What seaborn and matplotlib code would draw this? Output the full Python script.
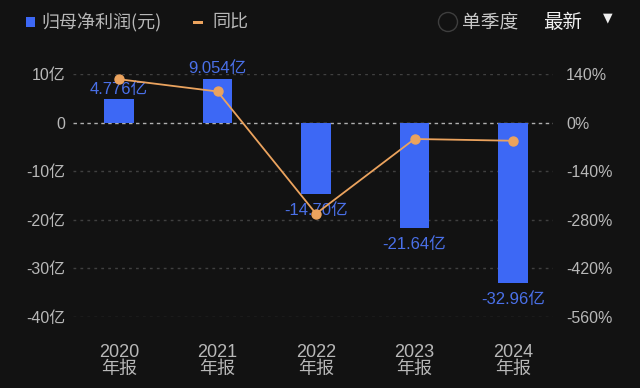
import matplotlib
matplotlib.use("Agg")
import matplotlib.pyplot as plt
import seaborn as sns
import pandas as pd
from matplotlib.patches import Rectangle, Ellipse

categories = ["2020\n年报", "2021\n年报", "2022\n年报", "2023\n年报", "2024\n年报"]
profit = [4.776, 9.054, -14.70, -21.64, -32.96]
profit_labels = ["4.776亿", "9.054亿", "-14.70亿", "-21.64亿", "-32.96亿"]
yoy = [125.0, 89.6, -262.4, -47.2, -52.3]
left_ticks = [10, 0, -10, -20, -30, -40]
left_ticklabels = ["10亿", "0", "-10亿", "-20亿", "-30亿", "-40亿"]
right_ticks = [140, 0, -140, -280, -420, -560]
right_ticklabels = ["140%", "0%", "-140%", "-280%", "-420%", "-560%"]

BG = "#121212"
BLUE = "#3D68F5"
LBLUE = "#4A70E8"
ORANGE = "#EBA35E"
GRAY = "#B8B8B8"
FONTS = ["Liberation Sans", "Noto Sans CJK SC", "DejaVu Sans"]
CJK = ["Noto Sans CJK SC", "DejaVu Sans"]

sns.set_theme(style="dark")
plt.rcParams["font.family"] = FONTS
plt.rcParams["axes.unicode_minus"] = False

fig = plt.figure(figsize=(6.4, 3.88), dpi=100, facecolor=BG)
ax = fig.add_axes([73 / 640, 1 - 317 / 388, (553 - 73) / 640, (317 - 74) / 388])
ax.set_facecolor(BG)

df = pd.DataFrame({"cat": categories, "profit": profit, "yoy": yoy})
sns.barplot(data=df, x="cat", y="profit", color=BLUE, width=0.3, saturation=1,
            linewidth=0, edgecolor=BLUE, ax=ax, zorder=3)

ax.set_ylim(-40, 10)
ax.set_xlim(-0.467, 4.406)
ax.set_yticks(left_ticks)
ax.set_yticklabels(left_ticklabels)
ax.set_xlabel("")
ax.set_ylabel("")
for s in ax.spines.values():
    s.set_visible(False)
ax.tick_params(axis="y", colors=GRAY, labelsize=11.5, length=0, pad=5.5)
ax.tick_params(axis="x", colors=GRAY, labelsize=13, length=0, pad=19.5)
for lbl in ax.get_xticklabels():
    lbl.set_linespacing(0.95)

for t in left_ticks:
    if t == 0:
        ax.axhline(t, color="#B0B0B0", lw=1.0, ls=(0, (2.5, 2.5)), zorder=2)
    else:
        ax.axhline(t, color="#404040", lw=1.0, ls=(0, (2, 3)), zorder=1)

for i, (v, lab) in enumerate(zip(profit, profit_labels)):
    if v >= 0:
        ax.annotate(lab, (i, v), xytext=(0, 2), textcoords="offset points",
                    ha="center", va="bottom", color=LBLUE, fontsize=12, zorder=5)
    else:
        ax.annotate(lab, (i, v), xytext=(0, -6.5), textcoords="offset points",
                    ha="center", va="top", color=LBLUE, fontsize=12, zorder=5)

ax2 = ax.twinx()
ax2.set_facecolor("none")
sns.pointplot(data=df, x="cat", y="yoy", ax=ax2, color=ORANGE, markers="o",
              linestyles="-", markersize=6.5, linewidth=1.3, zorder=6)
ax2.set_ylim(-560, 140)
ax2.set_xlim(-0.467, 4.406)
ax2.set_yticks(right_ticks)
ax2.set_yticklabels(right_ticklabels)
ax2.set_xlabel("")
ax2.set_ylabel("")
ax2.grid(False)
for s in ax2.spines.values():
    s.set_visible(False)
ax2.tick_params(axis="y", colors=GRAY, labelsize=11.5, length=0, pad=9.5)

# header legend
fig.add_artist(Rectangle((26 / 640, 1 - 27 / 388), 9 / 640, 10 / 388,
                         transform=fig.transFigure, color=BLUE, lw=0))
fig.text(41 / 640, 1 - 23 / 388, "归母净利润(元)", color=GRAY, fontsize=13,
         va="center", family=CJK)
fig.add_artist(Rectangle((193 / 640, 1 - 23.5 / 388), 10 / 640, 3 / 388,
                         transform=fig.transFigure, color=ORANGE, lw=0))
fig.text(212 / 640, 1 - 23 / 388, "同比", color=GRAY, fontsize=13, va="center",
         family=CJK)
fig.add_artist(Ellipse((448 / 640, 1 - 22 / 388), 19 / 640, 19 / 388,
                       transform=fig.transFigure, fill=False, ec="#3E3E3E", lw=1.0))
fig.text(462 / 640, 1 - 23 / 388, "单季度", color="#C8C8C8", fontsize=13.5,
         va="center", family=CJK)
fig.text(543 / 640, 1 - 23 / 388, "最新", color="#F0F0F0", fontsize=14,
         va="center", family=CJK, fontweight="medium")
fig.text(607.5 / 640, 1 - 17.5 / 388, "▼", color="#EEEEEE", fontsize=9,
         va="center", ha="center", family=["DejaVu Sans"])

fig.savefig("out.png", dpi=100, facecolor=BG)
